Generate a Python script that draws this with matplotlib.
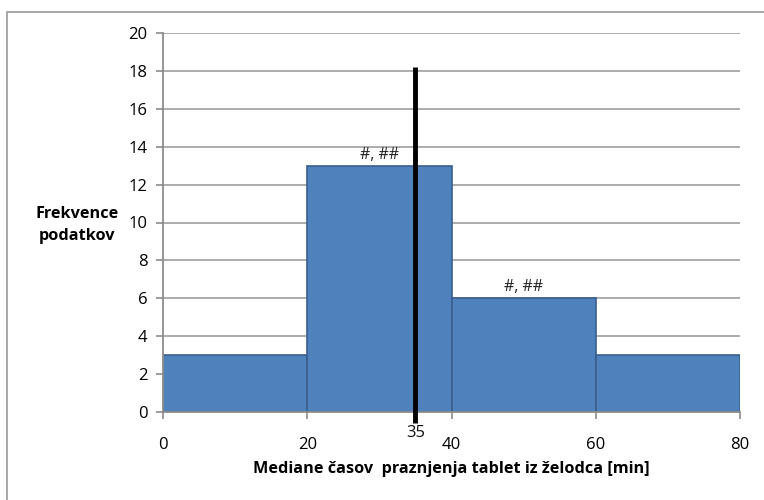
import matplotlib.pyplot as plt
from matplotlib.patches import Rectangle

bin_edges = [0, 20, 40, 60, 80]
counts = [3, 13, 6, 3]
bar_labels = ["", "#, ##", "#, ##", ""]
median_value = 35
median_line_top = 18.2
y_ticks = list(range(0, 21, 2))
x_ticks = [0, 20, 40, 60, 80]

plt.rcParams['font.family'] = ['Open Sans', 'DejaVu Sans']

fig = plt.figure(figsize=(7.64, 5.0), dpi=100)
ax = fig.add_axes([163/764, 88/500, 577/764, 379/500])

# outer chart frame
fig.patches.append(Rectangle((7/764, -0.2), 1.2, 1.2 - 12/500, transform=fig.transFigure,
                             fill=False, edgecolor="#9a9a9a", linewidth=1.2))

widths = [bin_edges[i+1] - bin_edges[i] for i in range(len(counts))]
bars = ax.bar(bin_edges[:-1], counts, width=widths, align="edge",
              color="#4F81BD", edgecolor="#3A5F8E", linewidth=1.2, zorder=2)
for b, lab in zip(bars, bar_labels):
    if lab:
        ax.text(b.get_x() + b.get_width()/2, b.get_height() + 0.15, lab,
                ha="center", va="bottom", fontsize=11.5, color="#222222", zorder=4)

# median line
ax.plot([median_value, median_value], [-0.6, median_line_top], color="black",
        linewidth=3.5, solid_capstyle="butt", clip_on=False, zorder=3)
ax.text(median_value, -0.7, str(median_value), ha="center", va="top", fontsize=12,
        color="#111111")

ax.set_xlim(0, 80)
ax.set_ylim(0, 20)
ax.set_yticks(y_ticks)
ax.set_xticks(x_ticks)
ax.yaxis.grid(True, color="#a6a6a6", linewidth=1.3, zorder=0)
ax.set_axisbelow(True)
for s in ["top", "right"]:
    ax.spines[s].set_visible(False)
for s in ["left", "bottom"]:
    ax.spines[s].set_color("#8c8c8c")
    ax.spines[s].set_linewidth(1.3)
ax.tick_params(axis="y", length=5, width=1.2, color="#8c8c8c", labelsize=12, pad=6)
ax.tick_params(axis="x", length=5, width=1.2, color="#8c8c8c", labelsize=12, pad=13)

ax.set_xlabel("Mediane časov  praznjenja tablet iz želodca [min]", fontsize=11.7,
              fontweight="bold", labelpad=6)
fig.text(77/764, 1 - 225/500, "Frekvence\npodatkov", ha="center", va="center",
         fontsize=11.7, fontweight="bold", linespacing=1.5)

fig.savefig("out.png", dpi=100)
